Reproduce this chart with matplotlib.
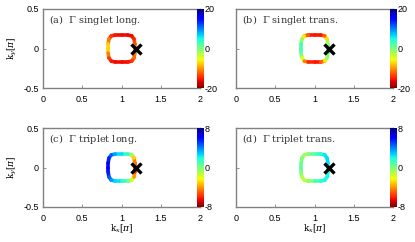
import numpy as np
import matplotlib
matplotlib.use("Agg")
import matplotlib.pyplot as plt
from matplotlib.collections import LineCollection
from matplotlib.colors import Normalize

# Fermi surface contour points (kx, ky in units of pi), counter-clockwise from right middle
kx = [1.17, 1.17, 1.16, 1.13, 1.08, 1.00, 0.92, 0.87, 0.84, 0.83, 0.83,
      0.83, 0.84, 0.87, 0.92, 1.00, 1.08, 1.13, 1.16, 1.17, 1.17]
ky = [0.00, 0.06, 0.12, 0.16, 0.17, 0.17, 0.17, 0.16, 0.12, 0.06, 0.00,
      -0.06, -0.12, -0.16, -0.17, -0.17, -0.17, -0.16, -0.12, -0.06, 0.00]

gamma_singlet_long = [-10, -12, -14, -16, -16, -16, -16, -15, -13, -9, -6,
                      -9, -13, -15, -16, -16, -16, -15, -13, -11, -10]
gamma_singlet_trans = [2, 1, -4, -10, -15, -16, -15, -10, -3, 2, 3,
                       2, -2, -8, -14, -16, -15, -10, -3, 1, 2]
gamma_triplet_long = [-6, -5, -4, -2, 1, 2, 3, 4, 5, 6, 6,
                      6, 5, 4, 3, 2, 1, -1, -3, -5, -6]
gamma_triplet_trans = [2, 2.5, 2.5, 2.5, 2, 1, 0, -1, -0.5, 0.5, 0.5,
                       0.5, -1, -1.5, -1, 0.5, 1.5, 2, 2, 2, 2]

panels = [
    ("(a)  $\\Gamma$ singlet long.", gamma_singlet_long, 20),
    ("(b)  $\\Gamma$ singlet trans.", gamma_singlet_trans, 20),
    ("(c)  $\\Gamma$ triplet long.", gamma_triplet_long, 8),
    ("(d)  $\\Gamma$ triplet trans.", gamma_triplet_trans, 8),
]

marker_kx = [1.18]
marker_ky = [0.0]

plt.rcParams['mathtext.fontset'] = 'dejavuserif'
plt.rcParams['axes.unicode_minus'] = False
plt.rcParams['font.family'] = ['Liberation Sans', 'DejaVu Sans']

fig = plt.figure(figsize=(4.15, 2.42), dpi=100)
W, H = 415.0, 242.0
lefts = [43, 236]
tops = [9, 128]
aw, ah = 157, 79
gray = '#808080'

for i, (title, vals, lim) in enumerate(panels):
    row, col = divmod(i, 2)
    l = lefts[col]
    t = tops[row]
    ax = fig.add_axes([l / W, 1 - (t + ah) / H, aw / W, ah / H])
    pts = np.column_stack([kx, ky])
    segs = np.stack([pts[:-1], pts[1:]], axis=1)
    v = np.array(vals, dtype=float)
    segv = 0.5 * (v[:-1] + v[1:])
    lc = LineCollection(segs, cmap='jet_r', norm=Normalize(-lim, lim),
                        linewidth=2.6, capstyle='round')
    lc.set_array(segv)
    ax.add_collection(lc)
    ax.plot(marker_kx, marker_ky, 'x', color='black', ms=7, mew=2.4)
    ax.set_xlim(0, 2)
    ax.set_ylim(-0.5, 0.5)
    ax.set_xticks([0, 0.5, 1, 1.5, 2])
    ax.set_xticklabels(['0', '0.5', '1', '1.5', '2'])
    ax.set_yticks([-0.5, 0, 0.5])
    if col == 0:
        ax.set_yticklabels(['-0.5', '0', '0.5'])
        ax.set_ylabel('k$_y$[$\\pi$]', fontsize=6.5, family='DejaVu Serif', labelpad=3)
    else:
        ax.set_yticklabels([])
    if row == 1:
        ax.set_xlabel('k$_x$[$\\pi$]', fontsize=6.5, family='DejaVu Serif', labelpad=0)
    ax.tick_params(direction='in', length=2, width=0.6, color=gray,
                   labelsize=6.5, pad=3)
    ax.tick_params(axis='x', pad=5)
    for s in ax.spines.values():
        s.set_color(gray)
        s.set_linewidth(1.0)
    ax.text(0.04, 0.82, title, transform=ax.transAxes, fontsize=7,
            family='DejaVu Serif', color='#333333')

    cax = fig.add_axes([(l + aw - 3) / W, 1 - (t + ah) / H, 7 / W, ah / H])
    cb = fig.colorbar(lc, cax=cax, ticks=[-lim, 0, lim])
    cb.outline.set_visible(False)
    cb.ax.tick_params(length=0, labelsize=6.5, pad=0.5)

fig.savefig('out.png', dpi=100)
